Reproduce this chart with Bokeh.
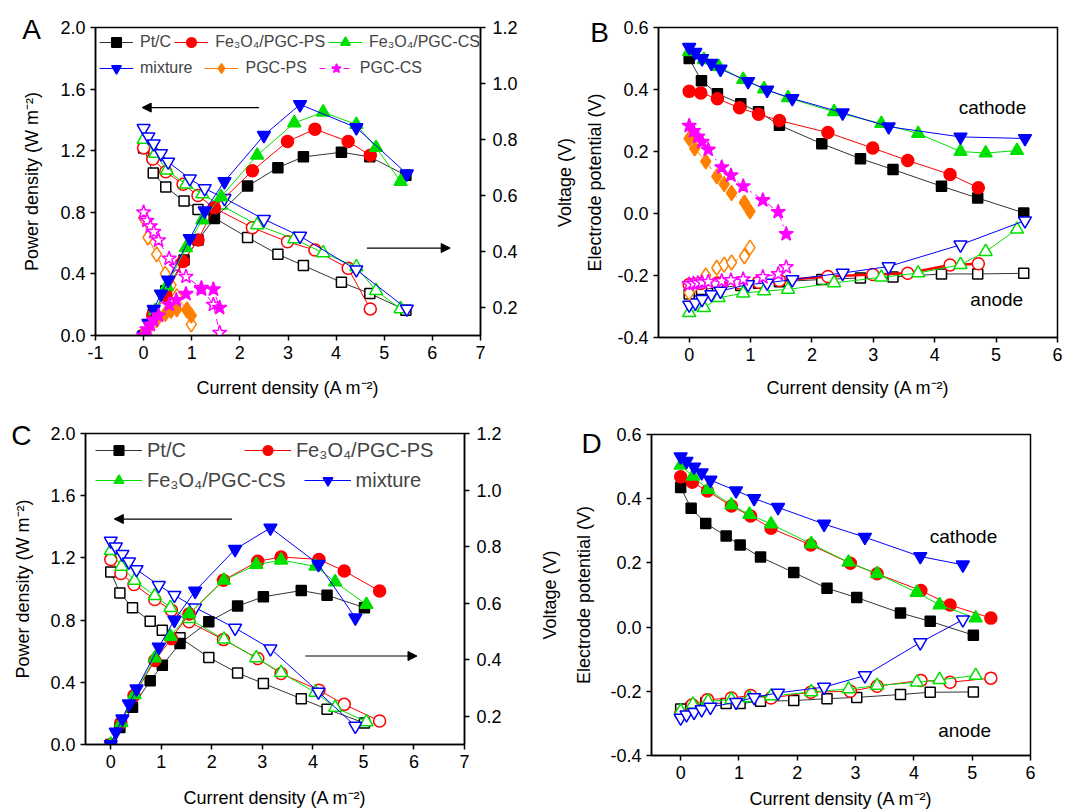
from bokeh.plotting import figure
from bokeh.models import (Range1d, LinearAxis, FixedTicker, PrintfTickFormatter,
                          Legend, LegendItem, Label, Arrow, NormalHead)
from bokeh.layouts import column, row
from bokeh.embed import file_html
from bokeh.resources import INLINE

FONT = "Liberation Sans"

# ---------------- Panel A: polarisation / power curves (cathode catalysts) ----------------
a_ptc_i = [0, 0.20, 0.46, 0.84, 1.13, 1.47, 2.16, 2.79, 3.32, 4.11, 4.70, 5.45]
a_ptc_p = [0, 0.14, 0.29, 0.49, 0.62, 0.76, 0.97, 1.09, 1.16, 1.19, 1.16, 1.04]
a_ptc_v = [0.77, 0.68, 0.63, 0.58, 0.55, 0.52, 0.45, 0.39, 0.35, 0.29, 0.25, 0.19]

a_ps_i = [0, 0.19, 0.46, 0.82, 1.13, 1.47, 2.26, 2.99, 3.56, 4.25, 4.71]
a_ps_p = [0, 0.13, 0.26, 0.48, 0.62, 0.83, 1.07, 1.26, 1.34, 1.26, 1.17]
a_ps_v = [0.77, 0.73, 0.685, 0.64, 0.60, 0.555, 0.485, 0.435, 0.405, 0.34, 0.195]

a_cs_i = [0, 0.24, 0.48, 0.88, 1.22, 1.61, 2.36, 3.13, 3.73, 4.42, 4.83, 5.34]
a_cs_p = [0, 0.16, 0.32, 0.57, 0.75, 0.90, 1.17, 1.38, 1.45, 1.37, 1.22, 1.00]
a_cs_v = [0.80, 0.75, 0.69, 0.64, 0.605, 0.565, 0.495, 0.445, 0.395, 0.345, 0.26, 0.195]

a_mix_i = [0, 0.10, 0.21, 0.36, 0.51, 0.96, 1.27, 1.68, 2.50, 3.25, 4.42, 5.47]
a_mix_p = [0, 0.08, 0.17, 0.27, 0.36, 0.63, 0.81, 1.00, 1.30, 1.50, 1.35, 1.05]
a_mix_v = [0.84, 0.81, 0.785, 0.75, 0.72, 0.66, 0.625, 0.59, 0.515, 0.455, 0.335, 0.195]

a_pgcps_i = [0, 0.09, 0.27, 0.45, 0.57, 0.69, 0.90, 0.99]
a_pgcps_p = [0, 0.04, 0.10, 0.14, 0.16, 0.17, 0.17, 0.13]
a_pgcps_v = [0.52, 0.45, 0.39, 0.32, 0.28, 0.24, 0.19, 0.14]

a_pgccs_i = [0, 0.07, 0.14, 0.21, 0.31, 0.53, 0.68, 0.88, 1.20, 1.45, 1.58]
a_pgccs_p = [0, 0.04, 0.07, 0.10, 0.13, 0.20, 0.23, 0.27, 0.30, 0.30, 0.18]
a_pgccs_v = [0.54, 0.51, 0.49, 0.47, 0.44, 0.375, 0.345, 0.31, 0.27, 0.21, 0.11]

# ---------------- Panel B: electrode potentials (same runs as A) ----------------
b_ptc_cat = [0.50, 0.428, 0.386, 0.354, 0.328, 0.285, 0.225, 0.177, 0.142, 0.088, 0.05, 0.002]
b_ptc_an = [-0.26, -0.245, -0.24, -0.232, -0.225, -0.22, -0.213, -0.208, -0.205, -0.195, -0.195, -0.193]
b_ps_cat = [0.394, 0.389, 0.37, 0.341, 0.32, 0.30, 0.261, 0.211, 0.171, 0.126, 0.083]
b_ps_an = [-0.229, -0.226, -0.224, -0.224, -0.222, -0.216, -0.203, -0.197, -0.193, -0.166, -0.162]
b_cs_cat = [0.522, 0.496, 0.474, 0.432, 0.402, 0.373, 0.328, 0.29, 0.258, 0.20, 0.195, 0.203]
b_cs_an = [-0.32, -0.304, -0.272, -0.257, -0.25, -0.245, -0.224, -0.206, -0.192, -0.165, -0.123, -0.051]
b_mix_cat = [0.536, 0.52, 0.50, 0.485, 0.466, 0.426, 0.398, 0.371, 0.325, 0.28, 0.247, 0.242]
b_mix_an = [-0.295, -0.288, -0.277, -0.261, -0.25, -0.229, -0.224, -0.213, -0.192, -0.171, -0.101, -0.023]
b_pgcps_cat = [0.242, 0.21, 0.168, 0.12, 0.095, 0.066, 0.035, 0.007]
b_pgcps_an = [-0.255, -0.23, -0.20, -0.175, -0.165, -0.158, -0.138, -0.11]
b_pgccs_cat = [0.283, 0.266, 0.248, 0.231, 0.206, 0.149, 0.123, 0.088, 0.043, 0.005, -0.066]
b_pgccs_an = [-0.228, -0.226, -0.224, -0.222, -0.22, -0.218, -0.215, -0.212, -0.205, -0.195, -0.173]

# ---------------- Panel C: polarisation / power curves (second set) ----------------
c_ptc_i = [0, 0.18, 0.43, 0.78, 1.02, 1.37, 1.94, 2.51, 3.02, 3.77, 4.28, 5.02]
c_ptc_p = [0, 0.11, 0.24, 0.41, 0.51, 0.65, 0.79, 0.89, 0.95, 0.99, 0.96, 0.88]
c_ptc_v = [0.71, 0.636, 0.584, 0.536, 0.504, 0.478, 0.408, 0.353, 0.316, 0.262, 0.225, 0.176]

c_ps_i = [0, 0.20, 0.46, 0.87, 1.20, 1.55, 2.23, 2.91, 3.37, 4.12, 4.62, 5.32]
c_ps_p = [0, 0.14, 0.315, 0.54, 0.68, 0.84, 1.056, 1.178, 1.206, 1.19, 1.116, 0.987]
c_ps_v = [0.754, 0.705, 0.666, 0.613, 0.575, 0.534, 0.471, 0.404, 0.351, 0.292, 0.242, 0.183]

c_cs_i = [0, 0.21, 0.47, 0.87, 1.18, 1.55, 2.24, 2.88, 3.37, 4.05, 4.44, 5.06]
c_cs_p = [0, 0.14, 0.32, 0.556, 0.695, 0.84, 1.056, 1.157, 1.185, 1.146, 1.045, 0.90]
c_cs_v = [0.785, 0.73, 0.68, 0.626, 0.584, 0.545, 0.472, 0.406, 0.354, 0.284, 0.231, 0.18]

c_mix_i = [0, 0.10, 0.23, 0.36, 0.51, 0.95, 1.26, 1.67, 2.46, 3.16, 4.11, 4.84]
c_mix_p = [0, 0.08, 0.165, 0.262, 0.358, 0.627, 0.80, 0.987, 1.255, 1.393, 1.159, 0.815]
c_mix_v = [0.82, 0.799, 0.773, 0.746, 0.719, 0.663, 0.628, 0.584, 0.512, 0.439, 0.286, 0.165]

# ---------------- Panel D: electrode potentials (same runs as C) ----------------
d_ptc_cat = [0.435, 0.37, 0.323, 0.284, 0.256, 0.218, 0.17, 0.121, 0.092, 0.044, 0.018, -0.025]
d_ptc_an = [-0.255, -0.25, -0.236, -0.238, -0.238, -0.231, -0.229, -0.223, -0.219, -0.21, -0.203, -0.202]
d_ps_cat = [0.468, 0.451, 0.424, 0.377, 0.346, 0.308, 0.256, 0.199, 0.166, 0.114, 0.069, 0.028]
d_ps_an = [-0.27, -0.242, -0.226, -0.221, -0.213, -0.221, -0.203, -0.2, -0.184, -0.166, -0.172, -0.159]
d_cs_cat = [0.504, 0.47, 0.429, 0.38, 0.351, 0.321, 0.259, 0.202, 0.166, 0.108, 0.069, 0.028]
d_cs_an = [-0.262, -0.241, -0.231, -0.226, -0.221, -0.215, -0.202, -0.193, -0.182, -0.172, -0.164, -0.151]
d_mix_cat = [0.531, 0.517, 0.499, 0.481, 0.458, 0.425, 0.401, 0.373, 0.321, 0.28, 0.22, 0.194]
d_mix_an = [-0.283, -0.273, -0.265, -0.257, -0.249, -0.234, -0.219, -0.205, -0.187, -0.151, -0.048, 0.023]

# tick values
x_ticks_a = [-1, 0, 1, 2, 3, 4, 5, 6, 7]
x_ticks_c = [0, 1, 2, 3, 4, 5, 6, 7]
x_ticks_bd = [0, 1, 2, 3, 4, 5, 6]
p_ticks = [0.0, 0.4, 0.8, 1.2, 1.6, 2.0]
v_ticks = [0.2, 0.4, 0.6, 0.8, 1.0, 1.2]
e_ticks = [-0.4, -0.2, 0.0, 0.2, 0.4, 0.6]

names = {
    "ptc": "Pt/C",
    "ps": "Fe\u2083O\u2084/PGC-PS",
    "cs": "Fe\u2083O\u2084/PGC-CS",
    "mix": "mixture",
    "pgcps": "PGC-PS",
    "pgccs": "PGC-CS",
}

STY = {
    "ptc": dict(color="black", line="#333333", marker="square", size=10),
    "ps": dict(color="#ff0000", line="#ff0000", marker="circle", size=12),
    "cs": dict(color="#00e000", line="#00e000", marker="triangle", size=13),
    "mix": dict(color="#0000ff", line="#0000ff", marker="inverted_triangle", size=13),
    "pgcps": dict(color="#ff8000", line="#ff8000", marker="diamond", size=15),
    "pgccs": dict(color="#ff00ff", line="#ff00ff", marker="star", size=15),
}

X_LABEL = "Current density (A m\u207b\u00b2)"


def style_axis(ax, fs="18px"):
    ax.major_label_text_font = FONT
    ax.major_label_text_font_size = fs
    ax.major_label_text_color = "black"
    ax.axis_label_text_font = FONT
    ax.axis_label_text_font_size = fs
    ax.axis_label_text_font_style = "normal"
    ax.axis_label_text_color = "black"
    ax.axis_line_width = 1.5
    ax.axis_line_color = "black"
    ax.major_tick_line_width = 1.5
    ax.major_tick_line_color = "black"
    ax.major_tick_out = 5
    ax.major_tick_in = 0
    ax.minor_tick_line_color = None
    ax.major_label_standoff = 5


def panel(w, h, bl, br, bt, bb, xr, yr, xticks, yticks, xfmt="%d", yfmt="%.1f"):
    p = figure(width=w, height=h, x_range=Range1d(*xr), y_range=Range1d(*yr),
               output_backend="svg", toolbar_location=None,
               min_border_left=bl, min_border_right=br,
               min_border_top=bt, min_border_bottom=bb)
    p.frame_align = False
    p.xgrid.visible = False
    p.ygrid.visible = False
    p.outline_line_color = "black"
    p.outline_line_width = 1.5
    p.outline_line_alpha = 1.0
    p.background_fill_color = "white"
    p.border_fill_color = "white"
    p.xaxis.ticker = FixedTicker(ticks=xticks)
    p.xaxis.formatter = PrintfTickFormatter(format=xfmt)
    p.yaxis.ticker = FixedTicker(ticks=yticks)
    p.yaxis.formatter = PrintfTickFormatter(format=yfmt)
    style_axis(p.xaxis[0])
    style_axis(p.yaxis[0])
    p.xaxis.axis_label = X_LABEL
    return p


def add_voltage_axis(p):
    p.extra_y_ranges = {"v": Range1d(0.1, 1.2)}
    ax = LinearAxis(y_range_name="v", ticker=FixedTicker(ticks=v_ticks),
                    formatter=PrintfTickFormatter(format="%.1f"))
    style_axis(ax)
    ax.major_label_standoff = 7
    p.add_layout(ax, "right")


def add_outer_label(p, text, standoff):
    ax = LinearAxis(axis_label=text, ticker=FixedTicker(ticks=[]))
    style_axis(ax)
    ax.axis_line_color = None
    ax.major_tick_line_color = None
    ax.major_label_text_font_size = "0px"
    ax.major_label_standoff = 0
    ax.axis_label_standoff = standoff
    p.add_layout(ax, "left")


def series(p, x, y, key, filled, rng="default", lw=1.0, dash="solid"):
    s = STY[key]
    lr = p.line(x, y, line_color=s["line"], line_width=lw, line_dash=dash, y_range_name=rng)
    sr = p.scatter(x, y, marker=s["marker"], size=s["size"], line_color=s["color"],
                   fill_color=s["color"] if filled else "white", line_width=1.5,
                   y_range_name=rng)
    return [lr, sr]


def legend_row(p, keys, rends, loc, spacing, fs, gw, standoff):
    items = [LegendItem(label=names[k], renderers=rends[k]) for k in keys]
    lg = Legend(items=items, location=loc, orientation="horizontal", spacing=spacing,
                padding=0, margin=0, border_line_color=None, background_fill_alpha=0,
                label_text_font=FONT, label_text_font_size=fs, glyph_width=gw,
                glyph_height=24, label_height=24, label_standoff=standoff)
    p.add_layout(lg)


def letter(p, text, x, y, side):
    # panel letter sits in a side panel so it is drawn outside the frame
    p.add_layout(Label(x=x, y=y, text=text, text_font=FONT, text_font_size="28px",
                       text_align="center", text_baseline="middle", text_color="black"),
                 side)


def arrow(p, x0, x1, y):
    p.add_layout(Arrow(end=NormalHead(size=9, fill_color="black", line_color="black"),
                       x_start=x0, y_start=y, x_end=x1, y_end=y,
                       line_color="black", line_width=1.2))


def note(p, text, x, y):
    p.add_layout(Label(x=x, y=y, text=text, text_font=FONT, text_font_size="19px",
                       text_align="center", text_baseline="middle", text_color="black"))


# ================= Panel A =================
pa = panel(530, 400, 92, 50, 27, 65, (-1, 7), (0, 2.0), x_ticks_a, p_ticks)
pa.yaxis[0].axis_label = "Power density (W m\u207b\u00b2)"
pa.yaxis[0].axis_label_standoff = 15
pa.xaxis[0].axis_label_standoff = 16
add_voltage_axis(pa)

a_sets = {
    "ptc": (a_ptc_i, a_ptc_p, a_ptc_v),
    "ps": (a_ps_i, a_ps_p, a_ps_v),
    "cs": (a_cs_i, a_cs_p, a_cs_v),
    "mix": (a_mix_i, a_mix_p, a_mix_v),
    "pgcps": (a_pgcps_i, a_pgcps_p, a_pgcps_v),
    "pgccs": (a_pgccs_i, a_pgccs_p, a_pgccs_v),
}
a_rends = {}
for k, (i, pw, v) in a_sets.items():
    dash = "dashed" if k == "pgccs" else "solid"
    series(pa, i, v, k, False, rng="v", dash=dash)
for k, (i, pw, v) in a_sets.items():
    dash = "dashed" if k == "pgccs" else "solid"
    a_rends[k] = series(pa, i, pw, k, True, dash=dash)

legend_row(pa, ["ptc", "ps", "cs"], a_rends, (4, 281), 3, "16px", 34, 7)
legend_row(pa, ["mix", "pgcps", "pgccs"], a_rends, (4, 255), 12, "16px", 34, 7)
arrow(pa, 2.4, -0.03, 1.48)
arrow(pa, 4.64, 6.37, 0.568)
letter(pa, "A", -2.33, 1.987, "left")

# ================= Panel B =================
pb = panel(547, 400, 128, 20, 27, 60, (-0.5, 6), (-0.4, 0.6), x_ticks_bd, e_ticks)
pb.yaxis[0].axis_label = "Electrode potential (V)"
pb.yaxis[0].axis_label_standoff = 9
pb.xaxis[0].axis_label_standoff = 14
add_outer_label(pb, "Voltage (V)", 8)

b_sets = {
    "ptc": (a_ptc_i, b_ptc_cat, b_ptc_an),
    "ps": (a_ps_i, b_ps_cat, b_ps_an),
    "cs": (a_cs_i, b_cs_cat, b_cs_an),
    "mix": (a_mix_i, b_mix_cat, b_mix_an),
    "pgcps": (a_pgcps_i, b_pgcps_cat, b_pgcps_an),
    "pgccs": (a_pgccs_i, b_pgccs_cat, b_pgccs_an),
}
for k, (i, cat, an) in b_sets.items():
    dash = "dashdot" if k in ("pgcps", "pgccs") else "solid"
    lw_an = 2.5 if k == "ps" else 1.0
    series(pb, i, an, k, False, lw=lw_an, dash=dash)
    series(pb, i, cat, k, True, dash=dash)
note(pb, "cathode", 4.94, 0.341)
note(pb, "anode", 5.01, -0.279)
letter(pb, "B", -1.46, 0.584, "left")

# ================= Panel C =================
pc = panel(520, 411, 85, 56, 33, 67, (-0.5, 7), (0, 2.0), x_ticks_c, p_ticks)
pc.yaxis[0].axis_label = "Power density (W m\u207b\u00b2)"
pc.yaxis[0].axis_label_standoff = 14
pc.xaxis[0].axis_label_standoff = 17
add_voltage_axis(pc)

c_sets = {
    "ptc": (c_ptc_i, c_ptc_p, c_ptc_v),
    "ps": (c_ps_i, c_ps_p, c_ps_v),
    "cs": (c_cs_i, c_cs_p, c_cs_v),
    "mix": (c_mix_i, c_mix_p, c_mix_v),
}
c_rends = {}
for k, (i, pw, v) in c_sets.items():
    series(pc, i, v, k, False, rng="v")
for k, (i, pw, v) in c_sets.items():
    c_rends[k] = series(pc, i, pw, k, True)

legend_row(pc, ["ptc", "ps"], c_rends, (10, 282), 58, "20px", 47, 5)
legend_row(pc, ["cs", "mix"], c_rends, (10, 252), 18, "20px", 47, 5)
arrow(pc, 2.4, 0.07, 1.45)
arrow(pc, 3.85, 6.06, 0.569)
letter(pc, "C", -1.767, 1.987, "above")

# ================= Panel D =================
pd_ = panel(557, 411, 131, 47, 34, 55, (-0.5, 6), (-0.4, 0.6), x_ticks_bd, e_ticks)
pd_.yaxis[0].axis_label = "Electrode potential (V)"
pd_.yaxis[0].axis_label_standoff = 13
pd_.xaxis[0].axis_label_standoff = 7
add_outer_label(pd_, "Voltage (V)", 12)

d_sets = {
    "ptc": (c_ptc_i, d_ptc_cat, d_ptc_an),
    "ps": (c_ps_i, d_ps_cat, d_ps_an),
    "cs": (c_cs_i, d_cs_cat, d_cs_an),
    "mix": (c_mix_i, d_mix_cat, d_mix_an),
}
for k, (i, cat, an) in d_sets.items():
    series(pd_, i, an, k, False)
    series(pd_, i, cat, k, True)
note(pd_, "cathode", 4.85, 0.282)
note(pd_, "anode", 4.87, -0.321)
letter(pd_, "D", -1.529, 0.572, "above")

layout = column(row(pa, pb), row(pc, pd_))
open("out.html", "w").write(file_html(layout, INLINE))
